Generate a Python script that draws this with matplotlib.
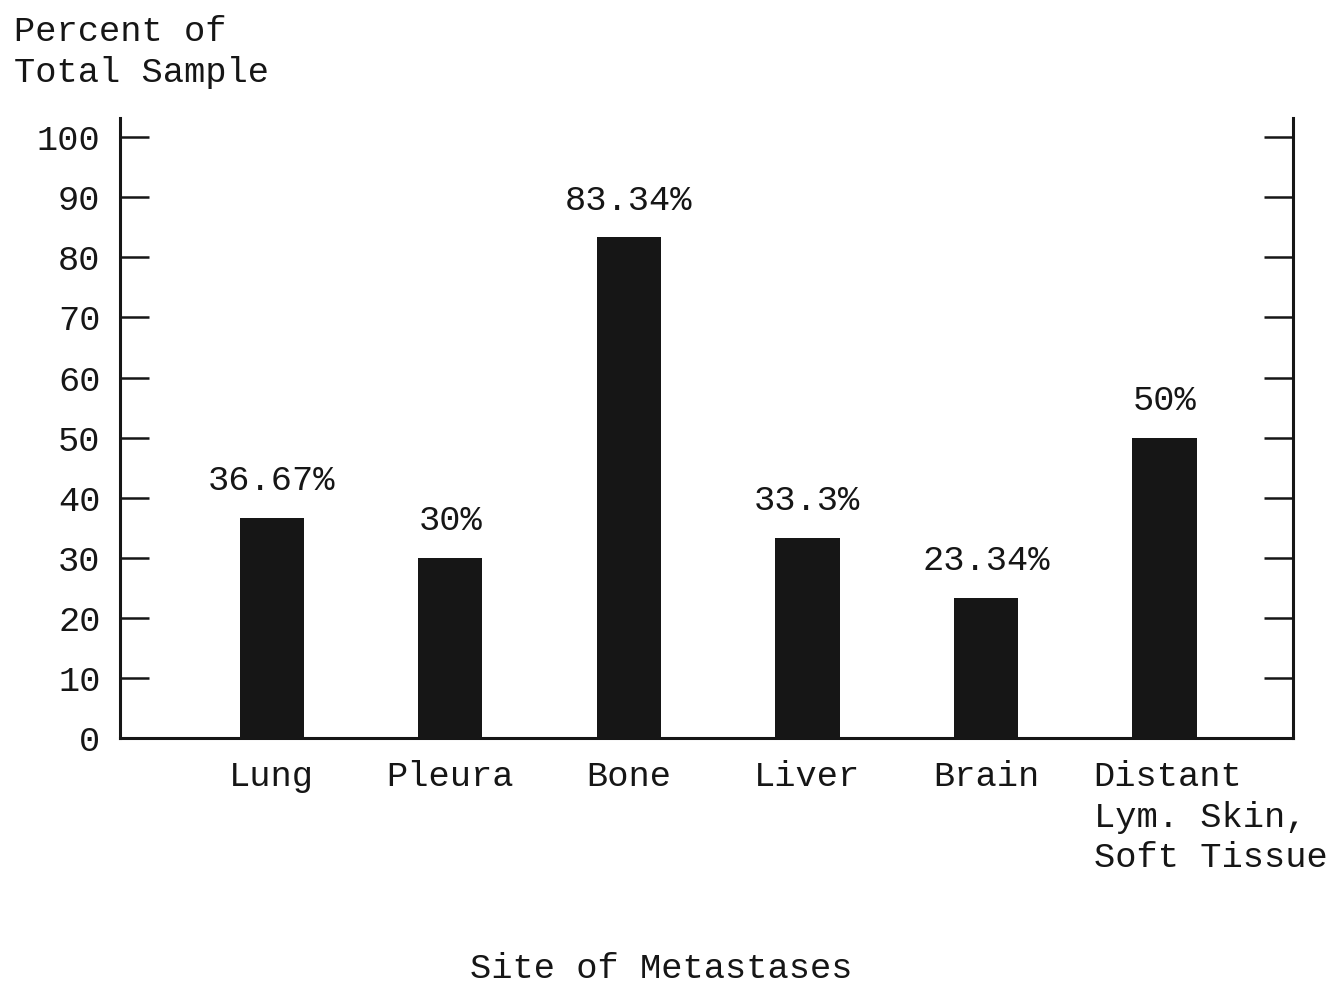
import matplotlib
matplotlib.use("Agg")
import matplotlib.pyplot as plt

categories = ["Lung", "Pleura", "Bone", "Liver", "Brain", "Distant\nLym. Skin,\nSoft Tissue"]
values = [36.67, 30, 83.34, 33.3, 23.34, 50]
value_labels = ["36.67%", "30%", "83.34%", "33.3%", "23.34%", "50%"]
yticks = [0, 10, 20, 30, 40, 50, 60, 70, 80, 90, 100]

FONT = "Liberation Mono"
FS = 25.5
INK = "#161616"

fig = plt.figure(figsize=(13.38, 9.86), dpi=100)
ax = fig.add_axes([120/1338, 1-738/986, (1293-120)/1338, (738-118)/986])

x = list(range(len(categories)))
ax.bar(x, values, width=0.36, color=INK, zorder=2)

ax.set_xlim(-0.85, 5.72)
ax.set_ylim(0, 103.2)

for s in ["left", "right", "bottom"]:
    ax.spines[s].set_linewidth(2.2)
    ax.spines[s].set_color(INK)
ax.spines["top"].set_visible(False)

ax.set_yticks(yticks)
ax.set_yticklabels([str(t) for t in yticks], fontfamily=FONT, fontsize=FS, color=INK)
ax.tick_params(axis="y", direction="in", length=21, width=1.8, color=INK, pad=14,
               right=True, labelright=False)
ax.set_xticks([])

for i, (v, lab) in enumerate(zip(values, value_labels)):
    ax.annotate(lab, xy=(i, v), xytext=(0, 20), textcoords="offset points",
                ha="center", va="baseline", fontfamily=FONT, fontsize=FS, color=INK)

for i, cat in enumerate(categories):
    if i == len(categories) - 1:
        ax.annotate(cat, xy=(i, 0), xytext=(-51, -16), textcoords="offset points",
                    ha="left", va="top", multialignment="left", linespacing=1.28,
                    fontfamily=FONT, fontsize=FS, color=INK, annotation_clip=False)
    else:
        ax.annotate(cat, xy=(i, 0), xytext=(0, -16), textcoords="offset points",
                    ha="center", va="top", fontfamily=FONT, fontsize=FS, color=INK,
                    annotation_clip=False)

fig.text(14/1338, 1-15/986, "Percent of\nTotal Sample", ha="left", va="top",
         linespacing=1.3, fontfamily=FONT, fontsize=FS, color=INK)
fig.text(661/1338, 1-968/986, "Site of Metastases", ha="center", va="center",
         fontfamily=FONT, fontsize=FS, color=INK)

fig.savefig("out.png", dpi=100)
